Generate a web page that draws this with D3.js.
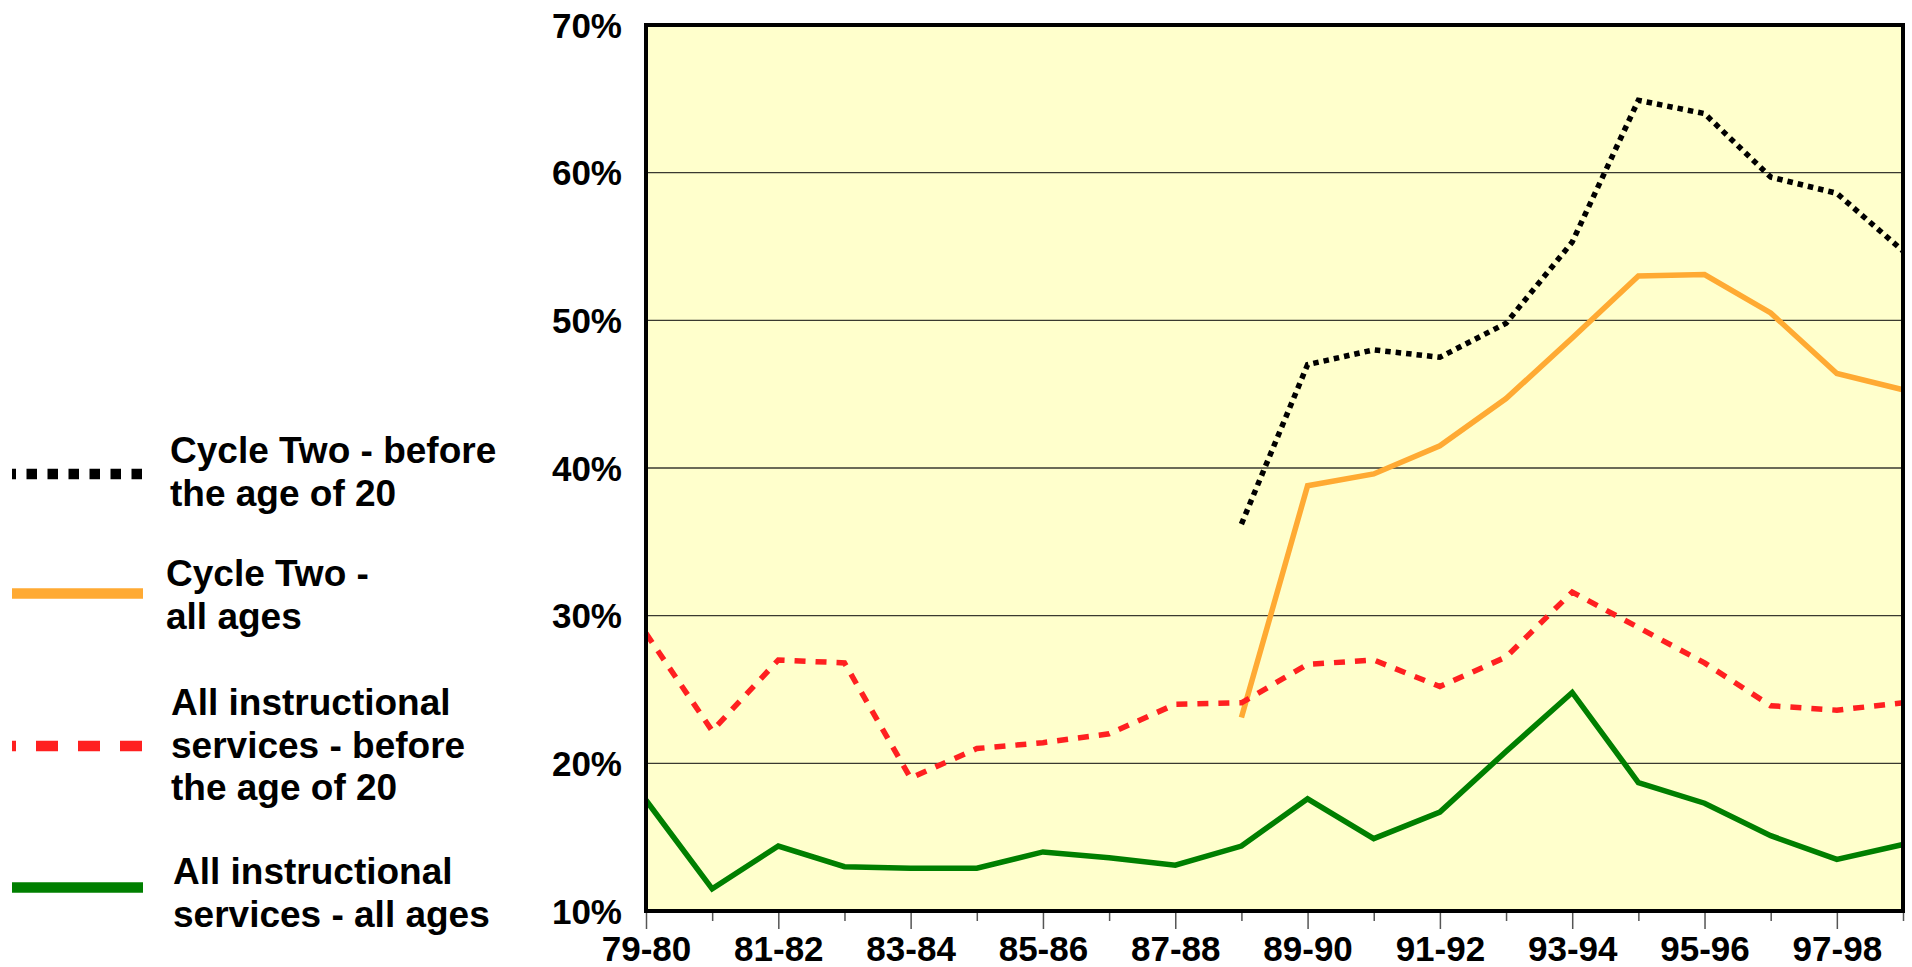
<!DOCTYPE html>
<html>
<head>
<meta charset="utf-8">
<script src="https://cdn.jsdelivr.net/npm/d3@7"></script>
<style>
  html, body { margin: 0; padding: 0; background: #ffffff; }
  svg { display: block; }
  text { font-family: "Liberation Sans", Arial, Helvetica, sans-serif; font-weight: bold; fill: #000; }
</style>
</head>
<body>
<svg id="chart" width="1912" height="967"></svg>
<script>
// School years on the horizontal axis
const categories = ["79-80","80-81","81-82","82-83","83-84","84-85","85-86","86-87","87-88","88-89",
                    "89-90","90-91","91-92","92-93","93-94","94-95","95-96","96-97","97-98","98-99"];
const tickLabels = ["79-80","81-82","83-84","85-86","87-88","89-90","91-92","93-94","95-96","97-98"];
const yTicks = [10, 20, 30, 40, 50, 60, 70];

// Percentages per school year (null = no data)
const cycleTwoUnder20 = [null, null, null, null, null, null, null, null, null,
                         36.2, 47.0, 48.0, 47.5, 49.8, 55.3, 64.9, 64.0, 59.7, 58.6, 54.7];
const cycleTwoAllAges = [null, null, null, null, null, null, null, null, null,
                         23.1, 38.8, 39.6, 41.5, 44.7, 48.8, 53.0, 53.1, 50.5, 46.4, 45.3];
const allServicesUnder20 = [28.8, 22.2, 27.0, 26.8, 19.0, 21.0, 21.4, 22.0, 24.0, 24.1,
                            26.7, 27.0, 25.2, 27.2, 31.6, 29.2, 26.8, 23.9, 23.6, 24.1];
const allServicesAllAges = [17.5, 11.5, 14.4, 13.0, 12.9, 12.9, 14.0, 13.6, 13.1, 14.4,
                            17.6, 14.9, 16.7, 20.8, 24.8, 18.7, 17.3, 15.1, 13.5, 14.5];

const seriesNames = [
  ["Cycle Two - before", "the age of 20"],
  ["Cycle Two -", "all ages"],
  ["All instructional", "services - before", "the age of 20"],
  ["All instructional", "services - all ages"]
];
const seriesValues = [cycleTwoUnder20, cycleTwoAllAges, allServicesUnder20, allServicesAllAges];

// Styling of each series: plot stroke and legend stroke
const styles = [
  { color: "#000000", width: 5.5, dash: "5.5,5", legendDash: "10.5,10.5", legendOffset: 6.5 },
  { color: "#FFAA33", width: 5.5, dash: null, legendDash: null, legendOffset: 0 },
  { color: "#FF2020", width: 5.5, dash: "11,10", legendDash: "22,20", legendOffset: 18 },
  { color: "#007F00", width: 5.5, dash: null, legendDash: null, legendOffset: 0 }
];

const svg = d3.select("#chart");
const plot = { left: 646, right: 1903, top: 25, bottom: 911 };

const x = d3.scalePoint().domain(categories).range([plot.left, plot.right]);
const y = d3.scaleLinear().domain([10, 70]).range([plot.bottom, plot.top]);

// Plot background
svg.append("rect")
  .attr("x", plot.left).attr("y", plot.top)
  .attr("width", plot.right - plot.left).attr("height", plot.bottom - plot.top)
  .attr("fill", "#FFFFCC");

// Horizontal gridlines
svg.append("g")
  .selectAll("line")
  .data(yTicks.filter(v => v > 10 && v < 70))
  .join("line")
  .attr("x1", plot.left).attr("x2", plot.right)
  .attr("y1", d => y(d)).attr("y2", d => y(d))
  .attr("stroke", "#3a3a30").attr("stroke-width", 1.3);

// Y axis labels
const yAxis = d3.axisLeft(y).tickValues(yTicks).tickFormat(d => d + "%").tickSize(0).tickPadding(24);
const gy = svg.append("g").attr("transform", `translate(${plot.left},0)`).call(yAxis);
gy.select(".domain").remove();
gy.selectAll("text")
  .attr("font-size", 35)
  .attr("font-family", "'Liberation Sans', Arial, sans-serif")
  .attr("font-weight", "bold")
  .attr("fill", "#000")
  .attr("dy", "0.35em");

// X axis: ticks at every year, longer ticks under labelled years
const xAxis = d3.axisBottom(x).tickSize(0).tickFormat(d => tickLabels.includes(d) ? d : "");
const gx = svg.append("g").attr("transform", `translate(0,${plot.bottom})`).call(xAxis);
gx.select(".domain").remove();
gx.selectAll(".tick line")
  .attr("y1", 1)
  .attr("y2", d => tickLabels.includes(d) ? 18 : 10)
  .attr("stroke", "#555")
  .attr("stroke-width", 1.5);
gx.selectAll(".tick text")
  .attr("y", 50).attr("dy", 0)
  .attr("font-size", 35)
  .attr("font-family", "'Liberation Sans', Arial, sans-serif")
  .attr("font-weight", "bold")
  .attr("fill", "#000");

// Data lines
const line = d3.line()
  .defined(d => d.v !== null)
  .x(d => x(d.c))
  .y(d => y(d.v));

seriesValues.forEach((vals, i) => {
  const st = styles[i];
  svg.append("path")
    .datum(vals.map((v, j) => ({ c: categories[j], v })))
    .attr("d", line)
    .attr("fill", "none")
    .attr("stroke", st.color)
    .attr("stroke-width", st.width)
    .attr("stroke-linejoin", "miter")
    .attr("stroke-dasharray", st.dash);
});

// Plot frame
svg.append("rect")
  .attr("x", plot.left).attr("y", plot.top)
  .attr("width", plot.right - plot.left).attr("height", plot.bottom - plot.top)
  .attr("fill", "none").attr("stroke", "#000").attr("stroke-width", 4);

// Legend
const legendLineY = [474, 593.5, 746, 887.5];
const legendTextX = [170, 166, 171, 173];
const legendFirstBaseline = [463, 586, 715, 884];
const lineGap = 42.5;

const legend = svg.append("g");
seriesNames.forEach((lines, i) => {
  const st = styles[i];
  legend.append("line")
    .attr("x1", 12).attr("x2", 143)
    .attr("y1", legendLineY[i]).attr("y2", legendLineY[i])
    .attr("stroke", st.color)
    .attr("stroke-width", 10.5)
    .attr("stroke-dasharray", st.legendDash)
    .attr("stroke-dashoffset", st.legendOffset);
  const t = legend.append("text")
    .attr("x", legendTextX[i])
    .attr("y", legendFirstBaseline[i])
    .attr("font-size", 37);
  t.selectAll("tspan")
    .data(lines)
    .join("tspan")
    .attr("x", legendTextX[i])
    .attr("y", (d, k) => legendFirstBaseline[i] + k * lineGap)
    .text(d => d);
});
</script>
</body>
</html>
